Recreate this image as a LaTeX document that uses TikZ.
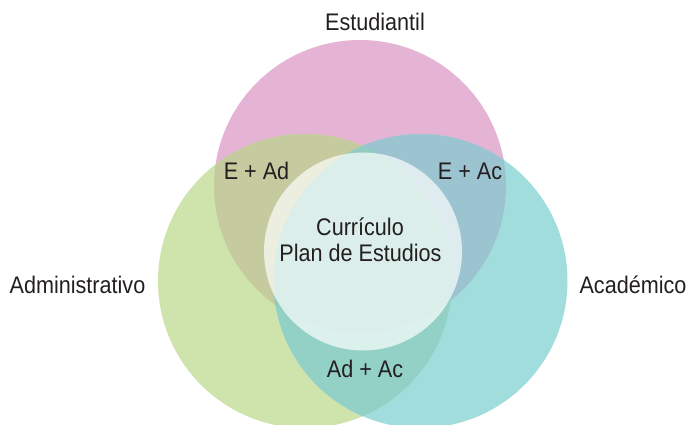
\documentclass[tikz,border=0pt]{standalone}
\usepackage{fontspec}
\setmainfont{Liberation Sans}[FakeStretch=0.9]
\definecolor{cpink}{RGB}{229,179,211}
\definecolor{cgreen}{RGB}{207,227,173}
\definecolor{cteal}{RGB}{162,221,221}
\definecolor{cPG}{RGB}{197,203,158}
\definecolor{cPT}{RGB}{155,196,208}
\definecolor{cGT}{RGB}{147,209,199}
\definecolor{cPGT}{RGB}{146,203,192}
\definecolor{textgray}{RGB}{35,31,32}
\begin{document}
\begin{tikzpicture}[x=1pt,y=-1pt,
  lbl/.style={font=\fontsize{24}{26}\selectfont, text=textgray, inner sep=0pt, anchor=base}]
\useasboundingbox (0,0) rectangle (689,424);
\clip (0,0) rectangle (689,424);
\coordinate (cE) at (360,186);
\coordinate (cAd) at (305,281);
\coordinate (cAc) at (420.5,281);
\coordinate (cC) at (363,251.5);
% base circles
\fill[cpink] (cE) circle[radius=146];
\fill[cgreen] (cAd) circle[radius=147];
\fill[cteal] (cAc) circle[radius=147];
% overlaps
\begin{scope}
  \clip (cE) circle[radius=146];
  \fill[cPG] (cAd) circle[radius=147];
  \fill[cPT] (cAc) circle[radius=147];
\end{scope}
\begin{scope}
  \clip (cAd) circle[radius=147];
  \fill[cGT] (cAc) circle[radius=147];
\end{scope}
\begin{scope}
  \clip (cE) circle[radius=146];
  \clip (cAd) circle[radius=147];
  \fill[cPGT] (cAc) circle[radius=147];
\end{scope}
% centre circle
\fill[white, fill opacity=0.68] (cC) circle[radius=99];
% labels
\node[lbl] (est) at (375,30.5) {Estudiantil};
\node[lbl] (adm) at (77.5,293.3) {Administrativo};
\node[lbl] (aca) at (633,293.3) {Académico};
\node[lbl] (ead) at (256.5,179.3) {E + Ad};
\node[lbl] (eac) at (470,179.3) {E + Ac};
\node[lbl] (adac) at (365,377.3) {Ad + Ac};
\node[lbl] (cur) at (360,235.7) {Currículo};
\node[lbl] (plan) at (360.5,261.7) {Plan de Estudios};
\end{tikzpicture}
\end{document}
